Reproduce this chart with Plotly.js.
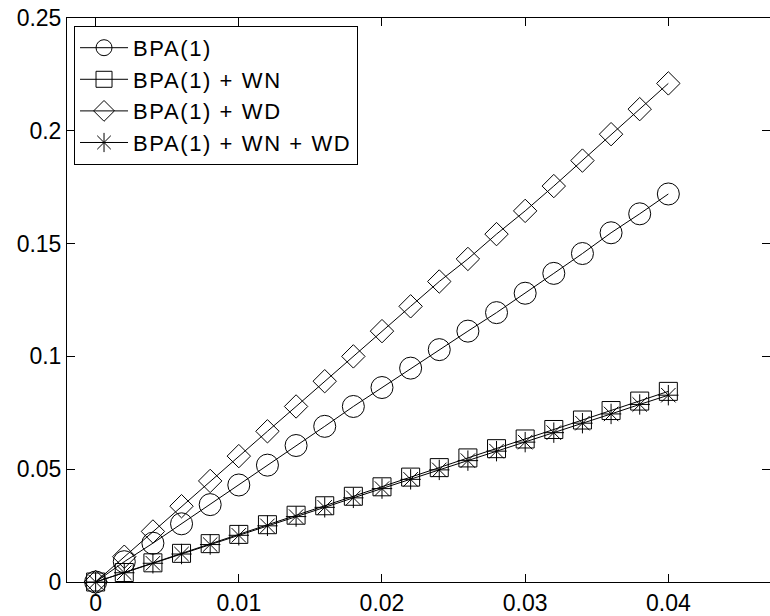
<!DOCTYPE html>
<html>
<head>
<meta charset="utf-8">
<script src="https://cdn.plot.ly/plotly-3.0.1.min.js"></script>
<style>html,body{margin:0;padding:0;background:#fff;}#chart{width:770px;height:616px;}.legendtext{letter-spacing:1.6px;}</style>
</head>
<body>
<div id="chart"></div>
<script>
const xVals = [0, 0.002, 0.004, 0.006, 0.008, 0.010, 0.012, 0.014, 0.016, 0.018, 0.020, 0.022, 0.024, 0.026, 0.028, 0.030, 0.032, 0.034, 0.036, 0.038, 0.040];
const bpa = [0, 0.0090, 0.0172, 0.0258, 0.0343, 0.0430, 0.0518, 0.0605, 0.0690, 0.0778, 0.0862, 0.0948, 0.1030, 0.1112, 0.1194, 0.1280, 0.1368, 0.1456, 0.1548, 0.1632, 0.1720];
const bpaWN = [0, 0.0042, 0.0085, 0.0127, 0.0170, 0.0211, 0.0254, 0.0296, 0.0338, 0.0380, 0.0422, 0.0465, 0.0507, 0.0550, 0.0591, 0.0634, 0.0676, 0.0718, 0.0760, 0.0802, 0.0845];
const bpaWD = [0, 0.0112, 0.0224, 0.0336, 0.0448, 0.0558, 0.0668, 0.0778, 0.0890, 0.1000, 0.1112, 0.1222, 0.1332, 0.1432, 0.1542, 0.1645, 0.1755, 0.1868, 0.1985, 0.2096, 0.2210];
const bpaWNWD = [0, 0.0041, 0.0083, 0.0124, 0.0166, 0.0207, 0.0249, 0.0290, 0.0331, 0.0373, 0.0414, 0.0455, 0.0497, 0.0538, 0.0580, 0.0620, 0.0662, 0.0704, 0.0745, 0.0787, 0.0828];
const seriesNames = ['BPA(1)', 'BPA(1) + WN', 'BPA(1) + WD', 'BPA(1) + WN + WD'];
const xTicks = [0, 0.01, 0.02, 0.03, 0.04];
const xTickText = ['0', '0.01', '0.02', '0.03', '0.04'];
const yTicks = [0, 0.05, 0.1, 0.15, 0.2, 0.25];
const yTickText = ['0', '0.05', '0.1', '0.15', '0.2', '0.25'];

const font = {family: 'Liberation Sans, Arial, sans-serif', size: 23, color: '#000'};
const legendFont = {family: 'Liberation Sans, Arial, sans-serif', size: 22, color: '#000'};
function tr(y, name, symbol, size) {
  return {
    x: xVals, y: y, name: name, type: 'scatter', mode: 'lines+markers',
    cliponaxis: false,
    line: {color: '#000', width: 1},
    marker: {symbol: symbol, size: size, color: '#000', line: {color: '#000', width: 1}}
  };
}
const data = [
  tr(bpa, seriesNames[0], 'circle-open', 22),
  tr(bpaWN, seriesNames[1], 'square-open', 18),
  tr(bpaWD, seriesNames[2], 'diamond-open', 18),
  tr(bpaWNWD, seriesNames[3], 'asterisk-open', 17)
];
const axisCommon = {
  showline: true, linecolor: '#000', linewidth: 1, mirror: 'ticks',
  ticks: 'inside', ticklen: 8, tickcolor: '#000', tickwidth: 1,
  showgrid: false, zeroline: false, tickfont: font
};
const layout = {
  width: 770, height: 616,
  margin: {l: 67, r: 0, t: 18, b: 34},
  paper_bgcolor: '#fff', plot_bgcolor: '#fff',
  showlegend: true,
  legend: {x: 0.010, y: 0.986, xanchor: 'left', yanchor: 'top', bgcolor: '#fff', bordercolor: '#000', borderwidth: 1, font: legendFont, tracegroupgap: 0, itemwidth: 48},
  xaxis: Object.assign({}, axisCommon, {range: [-0.002, 0.0471], tickvals: xTicks, ticktext: xTickText}),
  yaxis: Object.assign({}, axisCommon, {range: [0, 0.25], tickvals: yTicks, ticktext: yTickText})
};
Plotly.newPlot('chart', data, layout, {displayModeBar: false, staticPlot: true});
</script>
</body>
</html>
